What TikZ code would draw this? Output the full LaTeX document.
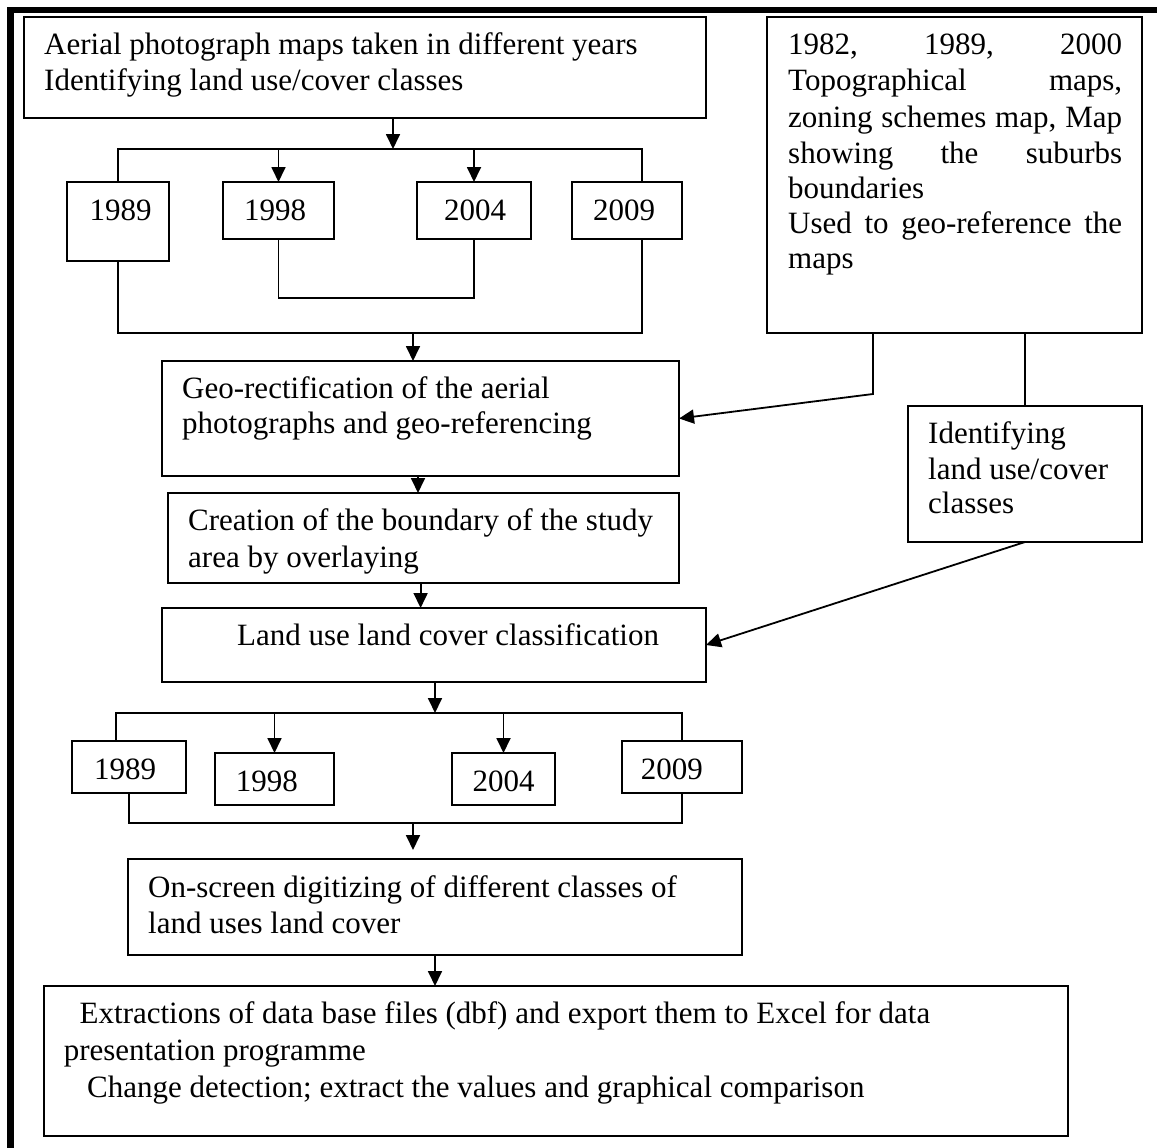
\documentclass[tikz,border=0pt]{standalone}
\usepackage{fontspec}
\setmainfont{Liberation Serif}
\usetikzlibrary{arrows.meta,calc}
\newcommand\mkbox[5]{\node[box,minimum width=#4-#2,minimum height=#5-#3] (#1) at (#2,#3) {};}
\newcommand\mktext[4]{\node[lab] (#1) at (#2,#3) {#4};}
\begin{document}
\begin{tikzpicture}[x=1pt,y=-1pt,
  box/.style={draw,line width=1.8pt,anchor=north west,inner sep=0pt,outer sep=0pt},
  lab/.style={anchor=base west,inner sep=0pt,font=\fontsize{31}{36}\selectfont},
  ln/.style={line width=1.8pt},
  arr/.style={line width=1.8pt,-{Triangle[length=15pt,width=14pt]}},
  frame/.style={line width=6.6pt,line join=miter}]
\useasboundingbox (0,0) rectangle (1157,1148);
% outer frame (top and left edges)
\draw[frame] (1157,10) -- (10.5,10) -- (10.5,1148);

% boxes
\mkbox{A}{24}{17}{706}{118}
\mkbox{B}{767}{17}{1142}{333}
\mkbox{ya}{67}{182}{169}{261}
\mkbox{yb}{223}{182}{334}{239}
\mkbox{yc}{417}{182}{531}{239}
\mkbox{yd}{572}{182}{682}{239}
\mkbox{geo}{162}{361}{679}{476}
\mkbox{cre}{168}{493}{679}{583}
\mkbox{C}{908}{406}{1142}{542}
\mkbox{land}{162}{608}{706}{682}
\mkbox{za}{72}{741}{186}{793}
\mkbox{zb}{215}{753}{334}{805}
\mkbox{zc}{452}{753}{555}{805}
\mkbox{zd}{622}{741}{742}{793}
\mkbox{on}{128}{859}{742}{955}
\mkbox{D}{44}{986}{1068}{1136}

% texts
\mktext{tA1}{44}{55}{Aerial photograph maps taken in different years}
\mktext{tA2}{44}{90}{Identifying land use/cover classes}
\mktext{tya}{89.5}{220}{1989}
\mktext{tyb}{244}{220}{1998}
\mktext{tyc}{444}{220}{2004}
\mktext{tyd}{593}{220}{2009}
\mktext{tB1}{788}{55}{\makebox[334pt][s]{1982, 1989, 2000}}
\mktext{tB2}{788}{91}{\makebox[334pt][s]{Topographical maps,}}
\mktext{tB3}{788}{127}{\makebox[334pt][s]{zoning schemes map, Map}}
\mktext{tB4}{788}{163}{\makebox[334pt][s]{showing the suburbs}}
\mktext{tB5}{788}{198}{boundaries}
\mktext{tB6}{788}{233}{\makebox[334pt][s]{Used to geo-reference the}}
\mktext{tB7}{788}{268}{maps}
\mktext{tgeo1}{182}{398}{Geo-rectification of the aerial}
\mktext{tgeo2}{182}{433}{photographs and geo-referencing}
\mktext{tcre1}{188}{530}{Creation of the boundary of the study}
\mktext{tcre2}{188}{567}{area by overlaying}
\mktext{tC1}{928}{443}{Identifying}
\mktext{tC2}{928}{479}{land use/cover}
\mktext{tC3}{928}{513}{classes}
\mktext{tland}{237}{645}{Land use land cover classification}
\mktext{tza}{94}{779}{1989}
\mktext{tzb}{235.6}{791}{1998}
\mktext{tzc}{472.4}{791}{2004}
\mktext{tzd}{640.7}{779}{2009}
\mktext{ton1}{148}{897}{On-screen digitizing of different classes of}
\mktext{ton2}{148}{933}{land uses land cover}
\mktext{tD1}{79.5}{1023}{Extractions of data base files (dbf) and export them to Excel for data}
\mktext{tD2}{63.6}{1060}{presentation programme}
\mktext{tD3}{86.9}{1097}{Change detection; extract the values and graphical comparison}

% junction coordinates
\coordinate (b1) at (393,149);
\coordinate (pd) at (642,182);
\coordinate (qd) at (642,239);
\coordinate (b2) at (413,333);
\coordinate (s1) at (418,0);
\coordinate (s2) at (420.6,0);
\coordinate (bL) at (873,394);
\coordinate (b3) at (435,713);
\coordinate (ra) at (116,741);
\coordinate (b4) at (413,823);
\coordinate (s3) at (435,0);

% top fan-out
\draw[arr] (A.south -| b1) -- (b1);
\draw[ln] (ya.north) |- (b1) -| (pd);
\draw[arr] (yb.north |- b1) -- (yb.north);
\draw[arr] (yc.north |- b1) -- (yc.north);
% top fan-in
\draw[ln] (yb.south) -- ++(0,59) -| (yc.south);
\draw[ln] (ya.south) |- (b2) -| (qd);
\draw[arr] (b2) -- (b2 |- geo.north);
% right column
\draw[arr] (bL |- B.south) -- (bL) -- (geo.east);
\draw[ln] (C.north |- B.south) -- (C.north);
\draw[arr] (C.south) -- (land.east);
% central spine
\draw[arr] (geo.south -| s1) -- (cre.north -| s1);
\draw[arr] (cre.south -| s2) -- (land.north -| s2);
\draw[arr] (land.south -| b3) -- (b3);
% bottom fan-out
\draw[ln] (ra) |- (b3) -| (zd.north);
\draw[arr] (zb.north |- b3) -- (zb.north);
\draw[arr] (zc.north |- b3) -- (zc.north);
% bottom fan-in
\draw[ln] (za.south) |- (b4) -| (zd.south);
\draw[arr,shorten >=9pt] (b4) -- (b4 |- on.north);
\draw[arr] (on.south -| s3) -- (D.north -| s3);
\end{tikzpicture}
\end{document}
